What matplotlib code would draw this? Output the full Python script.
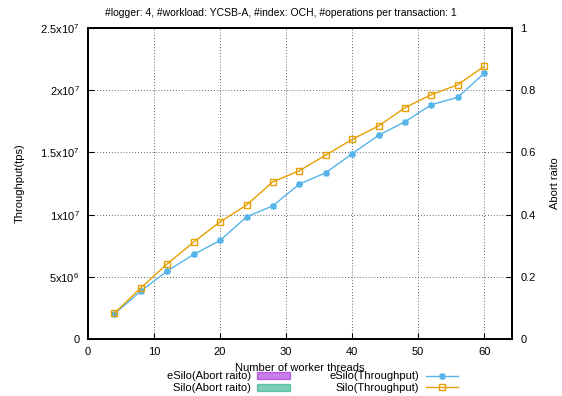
import matplotlib
matplotlib.use("Agg")
import matplotlib.pyplot as plt
from matplotlib.patches import Patch
from matplotlib.lines import Line2D

plt.rcParams["font.family"] = "Liberation Sans"
plt.rcParams["mathtext.default"] = "regular"

# worker threads on the x axis
threads = [4, 8, 12, 16, 20, 24, 28, 32, 36, 40, 44, 48, 52, 56, 60]

# throughput in transactions per second
esilo_tps = [2.01e6, 3.86e6, 5.47e6, 6.80e6, 7.92e6, 9.82e6, 1.071e7, 1.245e7,
             1.337e7, 1.49e7, 1.638e7, 1.747e7, 1.884e7, 1.944e7, 2.137e7]
silo_tps = [2.07e6, 4.11e6, 6.04e6, 7.79e6, 9.42e6, 1.077e7, 1.264e7, 1.353e7,
            1.479e7, 1.605e7, 1.713e7, 1.86e7, 1.965e7, 2.045e7, 2.193e7]

# abort ratio (right axis)
esilo_abort = [0.0] * len(threads)
silo_abort = [0.0] * len(threads)

y_ticks = [0, 5e6, 1e7, 1.5e7, 2e7, 2.5e7]
y_tick_labels = ["0", r"5x10$^{6}$", r"1x10$^{7}$", r"1.5x10$^{7}$", r"2x10$^{7}$", r"2.5x10$^{7}$"]
y2_ticks = [0, 0.2, 0.4, 0.6, 0.8, 1]
y2_tick_labels = ["0", "0.2", "0.4", "0.6", "0.8", "1"]

purple = "#9400d3"
green = "#009e73"
blue = "#56b4e9"
orange = "#e69f00"
fs = 8

fig = plt.figure(figsize=(5.62, 3.96), dpi=100)
ax = fig.add_axes([0.1566, 0.144, 0.7544, 0.785])
ax2 = ax.twinx()

# abort ratio bars
bw = 1.2
ax2.bar([t - bw / 2 for t in threads], esilo_abort, width=bw, color=purple, alpha=0.5,
        edgecolor=purple, linewidth=1)
ax2.bar([t + bw / 2 for t in threads], silo_abort, width=bw, color=green, alpha=0.5,
        edgecolor=green, linewidth=1)

# throughput lines
ax.plot(threads, esilo_tps, color=blue, linewidth=1, marker=(8, 2, 0), markersize=5,
        markeredgewidth=1)
ax.plot(threads, silo_tps, color=orange, linewidth=1, marker="s", markersize=5,
        markerfacecolor="none", markeredgewidth=1)

ax.set_zorder(ax2.get_zorder() + 1)
ax.patch.set_visible(False)

ax.set_xlim(0, 64.2)
ax.set_ylim(0, 2.5e7)
ax2.set_ylim(0, 1)
ax.set_xticks([0, 10, 20, 30, 40, 50, 60])
ax.set_yticks(y_ticks)
ax.set_yticklabels(y_tick_labels)
ax2.set_yticks(y2_ticks)
ax2.set_yticklabels(y2_tick_labels)

ax.grid(True, color="#333333", linestyle=(0, (1, 2.5)), linewidth=0.6)
ax.tick_params(direction="in", length=4, labelsize=fs, pad=6, top=False)
ax2.tick_params(direction="in", length=4, labelsize=fs, pad=6)
for a in (ax, ax2):
    for s in a.spines.values():
        s.set_linewidth(1.3)

ax.set_xlabel("Number of worker threads", fontsize=fs, labelpad=4)
ax.set_ylabel("Throughput(tps)", fontsize=fs, labelpad=11)
ax2.set_ylabel("Abort raito", fontsize=fs, labelpad=10)
fig.text(0.5, 0.968, "#logger: 4, #workload: YCSB-A, #index: OCH, #operations per transaction: 1",
         ha="center", va="center", fontsize=7.5)

handles = [
    Patch(facecolor=purple, alpha=0.5, edgecolor=purple),
    Patch(facecolor=green, alpha=0.5, edgecolor=green),
    Line2D([], [], color=blue, linewidth=1, marker=(8, 2, 0), markersize=5),
    Line2D([], [], color=orange, linewidth=1, marker="s", markersize=5, markerfacecolor="none"),
]
labels = ["eSilo(Abort raito)", "Silo(Abort raito)", "eSilo(Throughput)", "Silo(Throughput)"]
fig.legend(handles, labels, ncol=2, markerfirst=False, frameon=False, fontsize=fs,
           loc="center", bbox_to_anchor=(0.556, 0.035), handlelength=2.9,
           handleheight=0.6, labelspacing=0.15, columnspacing=3.6, handletextpad=0.6,
           borderpad=0)

fig.savefig("out.png", dpi=100)
